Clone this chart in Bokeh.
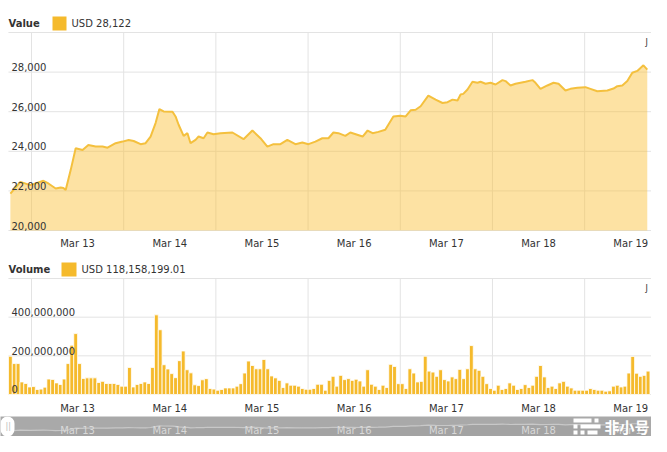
from bokeh.plotting import figure
from bokeh.layouts import column
from bokeh.models import Label, BoxAnnotation, Range1d
from bokeh.core.properties import value
from bokeh.embed import file_html
from bokeh.resources import INLINE

FONT = "DejaVu Sans"
GOLD = "#F5BA2C"
LINE = "#F4C03E"
FILL = "#FABE32"
GRID = "#e3e3e3"
TXT = "#333333"

# ---------------- data ----------------
day_labels = ["Mar 13", "Mar 14", "Mar 15", "Mar 16", "Mar 17", "Mar 18", "Mar 19"]
day_starts = [0, 24, 48, 72, 96, 120, 144]          # hours from Mar 13 00:00
day_mids = [12, 36, 60, 84, 108, 132, 156]

price_ticks = [20000, 22000, 24000, 26000, 28000, 30000]
price_tick_labels = ["20,000", "22,000", "24,000", "26,000", "28,000"]

# hours from Mar 13 00:00 and BTC price (USD)
price_hours = [-5.5, -2.9, -0.3, 3.1, 4.4, 6.3, 7.6, 8.3, 8.9, 10.2, 11.5, 13.3, 14.8,
               16.7, 18.5, 19.8, 21.9, 23.7, 25.3, 26.6, 28.4, 29.7, 31.0, 32.3, 33.3,
               34.4, 36.7, 37.5, 38.3, 39.6, 40.6, 41.4, 42.7, 43.5, 44.8, 45.8, 47.4,
               49.2, 52.3, 55.2, 57.5, 59.6, 61.4, 63.0, 64.8, 66.6, 68.7, 70.5, 72.1,
               73.9, 75.7, 77.3, 78.6, 79.9, 81.7, 83.0, 86.2, 87.5, 88.8, 90.3, 92.1,
               94.2, 96.0, 97.4, 98.7, 100.0, 101.3, 103.3, 105.2, 107.0, 108.3, 109.6,
               110.9, 111.7, 112.4, 113.5, 114.8, 116.1, 116.9, 118.2, 119.5, 120.8,
               122.6, 123.4, 124.7, 126.0, 127.3, 128.6, 130.4, 131.2, 132.5, 134.3,
               135.9, 137.2, 139.0, 140.3, 142.1, 144.2, 145.5, 147.3, 149.9, 151.5,
               152.5, 153.8, 155.1, 156.4, 157.7, 159.3, 160.3]
price_usd = [21866, 22457, 22290, 22510, 22375, 22120, 22170, 22150, 22050, 23050, 24155,
             24070, 24320, 24240, 24240, 24180, 24410, 24490, 24575, 24520, 24360, 24410,
             24745, 25425, 26135, 26015, 26000, 25760, 25340, 24780, 24915, 24410, 24575,
             24745, 24660, 24950, 24860, 24915, 24950, 24610, 25050, 24660, 24235, 24360,
             24360, 24575, 24360, 24440, 24360, 24490, 24660, 24660, 24950, 24915, 24780,
             24950, 24745, 25050, 24915, 24980, 25085, 25760, 25800, 25760, 26070, 26100,
             26275, 26815, 26610, 26440, 26480, 26610, 26570, 26865, 26900, 27120, 27510,
             27460, 27510, 27410, 27460, 27375, 27595, 27545, 27325, 27410, 27460, 27510,
             27595, 27460, 27155, 27325, 27460, 27410, 27070, 27155, 27205, 27240, 27155,
             27035, 27070, 27170, 27290, 27325, 27545, 27970, 28060, 28340, 28122]

volume_ticks = [0, 200e6, 400e6, 600e6]
volume_tick_labels = ["0", "200,000,000", "400,000,000"]

# hourly volume, millions USD (first bar = Mar 12 18:00)
volume_musd = [198, 160, 160, 65, 57, 39, 41, 26, 28, 38,
               80, 78, 60, 52, 80, 160, 255, 315, 160, 83,
               86, 86, 86, 62, 68, 57, 57, 57, 52, 43,
               43, 140, 39, 52, 57, 65, 57, 140, 412, 335,
               154, 132, 108, 87, 175, 225, 128, 112, 50, 46,
               76, 82, 31, 28, 22, 26, 34, 34, 34, 43,
               56, 111, 173, 150, 133, 133, 181, 133, 96, 86,
               73, 36, 60, 48, 48, 43, 31, 27, 27, 31,
               53, 53, 22, 73, 94, 43, 99, 77, 82, 73,
               79, 70, 43, 128, 53, 43, 26, 48, 36, 156,
               145, 56, 56, 31, 133, 111, 65, 68, 198, 121,
               116, 94, 128, 77, 70, 91, 82, 130, 82, 133,
               253, 133, 125, 94, 56, 31, 22, 48, 26, 31,
               60, 48, 26, 31, 51, 36, 48, 94, 150, 91,
               36, 43, 31, 60, 68, 43, 34, 22, 22, 22,
               22, 31, 26, 22, 22, 17, 19, 43, 48, 39,
               43, 111, 197, 110, 94, 99, 121]
first_bar_hour = -5.5
volume_hours = [first_bar_hour + i for i in range(len(volume_musd))]
volume_usd = [v * 1e6 for v in volume_musd]

# plot area in hours; the canvas is a bit wider than the plot area
PLOT_X0, PLOT_X1 = -6.0, 161.4
CANVAS_X = (-8.07, 161.4)
W = 651


def base_fig(height, y_range):
    p = figure(width=W, height=height, x_range=Range1d(*CANVAS_X), y_range=Range1d(*y_range),
               output_backend="svg", toolbar_location=None,
               min_border_left=0, min_border_right=0, min_border_top=0, min_border_bottom=0)
    p.xaxis.visible = False
    p.yaxis.visible = False
    p.grid.visible = False
    p.outline_line_color = None
    return p


def grid(p, ticks):
    p.segment(x0=[PLOT_X0] * len(ticks), x1=[PLOT_X1] * len(ticks), y0=ticks, y1=ticks,
              line_color=GRID, line_width=1)
    p.segment(x0=day_starts, x1=day_starts, y0=[ticks[0]] * len(day_starts),
              y1=[ticks[-1]] * len(day_starts), line_color=GRID, line_width=1)


def tick_labels(p, ticks, labels, label_offset):
    # y tick labels, inside the plot, above their grid line
    p.text(x=[PLOT_X0] * len(labels), y=ticks[:len(labels)], text=labels,
           x_offset=3, y_offset=-1, text_align="left", text_baseline="bottom",
           text_font=value(FONT), text_font_size="10px", text_color=TXT)
    # x tick labels (centred on each day)
    p.text(x=day_mids, y=[ticks[0]] * len(day_mids), text=day_labels, y_offset=label_offset,
           text_align="center", text_baseline="middle", text_font=value(FONT),
           text_font_size="10px", text_color=TXT)


def header(p, y, title, swatch, legend_text):
    p.add_layout(Label(x=8, y=y, x_units="screen", y_units="screen", text=title,
                       text_font=FONT, text_font_style="bold", text_font_size="10px",
                       text_color=TXT, text_baseline="middle"))
    l, r = swatch
    p.add_layout(BoxAnnotation(left=l, right=r, bottom=y - 7, top=y + 7,
                               left_units="screen", right_units="screen",
                               bottom_units="screen", top_units="screen",
                               fill_color=GOLD, fill_alpha=1, line_color=None))
    p.add_layout(Label(x=r + 5, y=y, x_units="screen", y_units="screen", text=legend_text,
                       text_font=FONT, text_font_size="10px", text_color=TXT,
                       text_baseline="middle"))


# ---------------- price chart (canvas y 0..252) ----------------
p1 = base_fig(252, (18889, 31616))
grid(p1, price_ticks)
p1.varea(x=price_hours, y1=price_ticks[0], y2=price_usd, fill_color=FILL, fill_alpha=0.45)
p1.line(x=price_hours, y=price_usd, line_color=LINE, line_width=2)
tick_labels(p1, price_ticks, price_tick_labels, 13)
header(p1, 229, "Value", (52, 66), "USD 28,122")
p1.add_layout(Label(x=645, y=210, x_units="screen", y_units="screen", text="J",
                    text_font=FONT, text_font_size="8px", text_color=TXT, text_baseline="middle"))

# ---------------- volume chart (canvas y 252..416) ----------------
p2 = base_fig(164, (-113.8e6, 734.5e6))
grid(p2, volume_ticks)
p2.vbar(x=volume_hours, top=volume_usd, width=1, bottom=0, fill_color=GOLD,
        line_color="white", line_width=0.8)
tick_labels(p2, volume_ticks, volume_tick_labels, 14)
header(p2, 147, "Volume", (61, 76), "USD 118,158,199.01")
p2.add_layout(Label(x=645, y=128, x_units="screen", y_units="screen", text="J",
                    text_font=FONT, text_font_size="8px", text_color=TXT, text_baseline="middle"))

# ---------------- navigator (canvas y 416..436) ----------------
p3 = base_fig(20, (17000, 34200))
p3.background_fill_color = "#a9a9a9"
p3.border_fill_color = "#a9a9a9"
p3.varea(x=price_hours, y1=17000, y2=price_usd, fill_color="#a3a3a3")
p3.line(x=price_hours, y=price_usd, line_color="#c8c8c8", line_width=1.2)
p3.text(x=day_mids, y=[17000] * len(day_mids), text=day_labels, y_offset=-6,
        text_align="center", text_baseline="middle", text_font=value(FONT),
        text_font_size="10px", text_color="#d9d9d9")
p3.add_layout(BoxAnnotation(left=0, right=14, bottom=0, top=20, left_units="screen",
                            right_units="screen", bottom_units="screen", top_units="screen",
                            fill_color="white", fill_alpha=1, line_color=None, border_radius=8))
p3.add_layout(Label(x=5, y=10, x_units="screen", y_units="screen", text="||",
                    text_font=FONT, text_font_size="8px", text_color="#bbbbbb",
                    text_baseline="middle"))
for (l, r, b, t) in [(573, 591, 14, 18), (594, 598, 14, 18), (573, 577, 8, 12),
                     (580, 600, 8, 12), (573, 577, 2, 6), (580, 584, 2, 6), (587, 597, 2, 6)]:
    p3.add_layout(BoxAnnotation(left=l, right=r, bottom=b, top=t, left_units="screen",
                                right_units="screen", bottom_units="screen", top_units="screen",
                                fill_color="white", fill_alpha=1, line_color=None))
p3.add_layout(Label(x=604, y=10, x_units="screen", y_units="screen", text="非小号",
                    text_font="Noto Sans CJK SC", text_font_style="bold", text_font_size="15px",
                    text_color="white", text_baseline="middle"))

layout = column(p1, p2, p3, spacing=0)
open("out.html", "w").write(file_html(layout, INLINE))
